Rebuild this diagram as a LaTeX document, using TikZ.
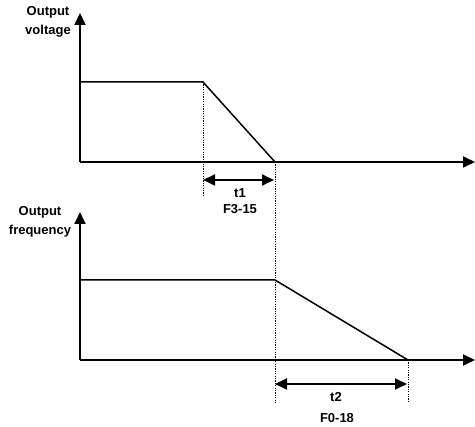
\documentclass[tikz,border=0pt]{standalone}
\usepackage{fontspec}
\setmainfont{Liberation Sans}
\usepackage{tikz}
\usetikzlibrary{arrows.meta,positioning,calc}

\tikzset{
    axisline/.style={line width=1.8pt, -{Triangle[length=12pt,width=11pt]}},
    curveline/.style={line width=1.5pt},
    guideline/.style={line width=1pt, dash pattern=on 1.2pt off 1.2pt},
    spanarrow/.style={line width=1.8pt, {Triangle[length=12pt,width=11pt]}-{Triangle[length=12pt,width=11pt]}},
    axislabel/.style={align=center, font=\fontsize{13}{19}\selectfont\bfseries},
    spanlabel/.style={font=\fontsize{13}{15}\selectfont\bfseries}
}

\begin{document}
\begin{tikzpicture}[x=1pt, y=-1pt]
    \useasboundingbox (0,0) rectangle (475,427);

    % Output voltage
    \coordinate (VO) at (80,162);
    \coordinate (VT) at (80,13);
    \coordinate (VX) at (475,162);
    \coordinate (VA) at (80,82);
    \coordinate (VB) at (203,82);
    \coordinate (VC) at (275,162);

    \draw[axisline] (VO) -- (VT);
    \draw[axisline] (VO) -- (VX);
    \draw[curveline] (VA) -- (VB) -- (VC);
    \node[axislabel] (vlabel) at (48,22) {Output\\voltage};

    % Output frequency
    \coordinate (FO) at (80,360);
    \coordinate (FT) at (80,212);
    \coordinate (FX) at (475,360);
    \coordinate (FA) at (80,280);
    \coordinate (FB) at (275,280);
    \coordinate (FC) at (408,360);

    \draw[axisline] (FO) -- (FT);
    \draw[axisline] (FO) -- (FX);
    \draw[curveline] (FA) -- (FB) -- (FC);
    \node[axislabel] (flabel) at (40,222) {Output\\frequency};

    % Guides
    \coordinate (G1) at (203,197);
    \coordinate (G2) at (275,403);
    \coordinate (G3) at (408,403);
    \draw[guideline] (VB) -- (G1);
    \draw[guideline] (VC) -- (G2);
    \draw[guideline] (FC) -- (G3);

    % Time spans
    \coordinate (S1a) at (203,180);
    \coordinate (S1b) at (274,180);
    \draw[spanarrow] (S1a) -- (S1b);
    \node[spanlabel] (t1) at (240,193) {t1};
    \node[spanlabel] (p1) at (240,209) {F3-15};

    \coordinate (S2a) at (275,384);
    \coordinate (S2b) at (407,384);
    \draw[spanarrow] (S2a) -- (S2b);
    \node[spanlabel] (t2) at (336,397) {t2};
    \node[spanlabel] (p2) at (337,418) {F0-18};
\end{tikzpicture}
\end{document}
